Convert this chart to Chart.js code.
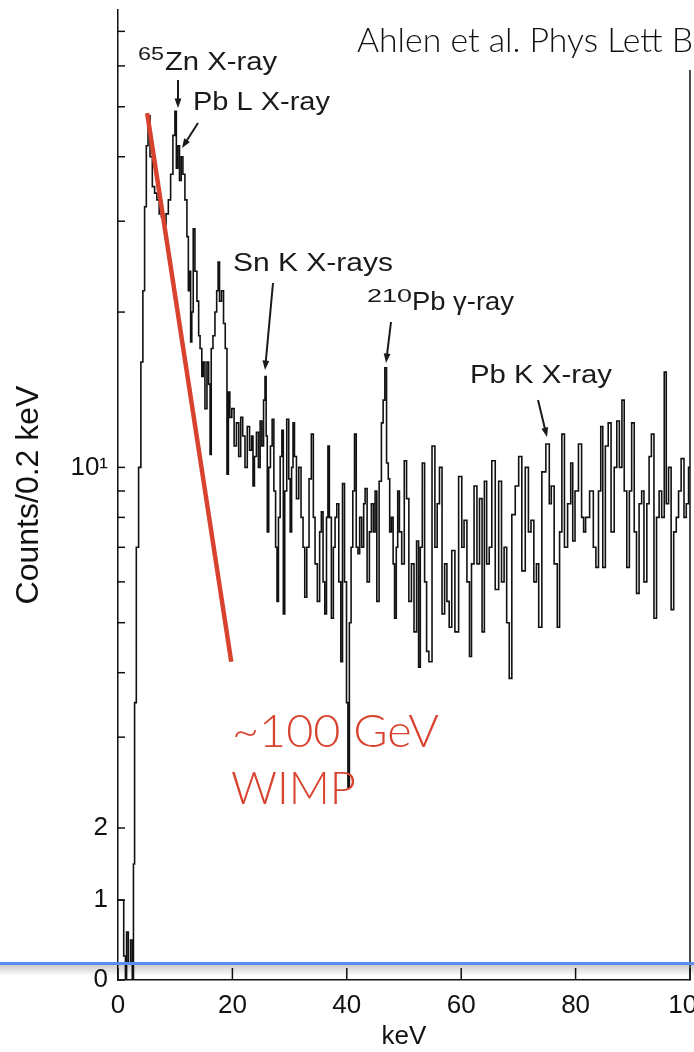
<!DOCTYPE html>
<html lang="en">
<head>
  <meta charset="UTF-8" />
  <title>Ahlen et al. spectrum</title>
  <script src="https://cdn.jsdelivr.net/npm/chart.js"></script>
  <style>
    body { margin: 0; background: #fff; }
    .box { position: relative; width: 694px; height: 1052px; }
  </style>
</head>
<body>
  <div class="box">
    <canvas id="espectro"></canvas>
  </div>

  <script>
    // energia (keV) e contagens, bins aproximados
    const energy = [
      0.0, 0.4, 0.8, 1.2, 1.4, 1.6, 2.0, 2.4, 2.6, 2.8,
      3.0, 3.4, 3.8, 4.2, 4.5, 4.8, 5.1, 5.4, 5.8, 6.2,
      6.6, 7.0, 7.4, 7.8, 8.2, 8.6, 9.0, 9.4, 9.8, 10.1,
      10.3, 10.6, 10.9, 11.2, 11.5, 11.9, 12.2, 12.4, 12.6, 12.8,
      13.0, 13.3, 13.6, 14.0, 14.2, 14.5, 14.8, 15.0, 15.4, 15.7,
      16.0, 16.2, 16.4, 16.8, 17.1, 17.4, 17.6, 17.9, 18.3, 18.6,
      18.9, 19.2, 19.4, 19.7, 20.1, 20.5, 20.9, 21.3, 21.6, 22.0,
      22.4, 22.8, 23.2, 23.5, 23.7, 24.0, 24.4, 24.7, 25.0, 25.3,
      25.6, 25.8, 26.0, 26.2, 26.5, 26.8, 27.1, 27.4, 27.7, 27.9,
      28.2, 28.5, 28.8, 29.0, 29.3, 29.7, 30.0, 30.2, 30.5, 30.7,
      31.0, 31.4, 31.8, 32.2, 32.5, 32.8, 33.2, 33.6, 34.0, 34.3,
      34.6, 35.1, 35.4, 35.7, 36.0, 36.3, 36.6, 36.8, 37.1, 37.5,
      37.8, 38.1, 38.4, 38.8, 39.1, 39.4, 39.8, 40.1, 40.3, 40.6,
      40.9, 41.2, 41.5, 41.8, 42.1, 42.4, 42.8, 43.1, 43.3, 43.8,
      44.1, 44.5, 44.8, 45.1, 45.4, 45.9, 46.2, 46.5, 46.8, 47.1,
      47.4, 47.6, 48.0, 48.2, 48.5, 48.8, 49.0, 49.4, 49.8, 50.3,
      50.6, 51.1, 51.5, 52.0, 52.4, 52.7, 53.0, 53.4, 53.8, 54.1,
      54.6, 55.2, 55.6, 56.0, 56.4, 56.9, 57.3, 57.7, 58.1, 58.6,
      59.2, 59.9, 60.3, 60.7, 61.3, 61.6, 62.0, 62.5, 63.0, 63.4,
      63.9, 64.2, 64.7, 65.1, 65.6, 66.3, 66.8, 67.3, 67.7, 68.2,
      68.6, 69.1, 69.8, 70.3, 70.9, 71.5, 72.0, 72.4, 73.0, 73.3,
      73.8, 74.4, 75.2, 75.6, 75.9, 76.6, 77.0, 77.4, 77.8, 78.3,
      78.9, 79.4, 79.6, 80.2, 80.8, 81.3, 81.5, 82.0, 82.9, 83.3,
      83.8, 84.2, 84.6, 84.9, 85.5, 85.9, 86.5, 87.0, 87.4, 87.9,
      88.3, 88.7, 89.2, 89.6, 90.0, 90.5, 90.8, 91.4, 91.7, 92.2,
      92.7, 93.0, 93.5, 93.9, 94.4, 94.8, 95.3, 95.7, 96.0, 96.5,
      96.9, 97.4, 97.8, 98.2, 98.7, 99.2, 99.5, 100.0
    ];
    const counts = [
      1, 1, 1, 0.3, 0, 0.6, 0.2, 0.5, 0, 1.5,
      3.5, 7, 10, 16, 22, 32, 42, 48, 40, 35,
      34, 33, 31, 30.5, 29.5, 31, 33, 37, 44, 49,
      38, 42, 36, 40, 37, 33, 28, 22, 24, 17.5,
      20, 29, 24, 21, 18, 17, 15, 16, 13, 16,
      14.5, 10.6, 17, 18, 20, 22, 25, 21, 22, 19,
      17, 9.7, 14, 12.5, 13, 11, 12.2, 10.5, 12.5, 11.5,
      10, 12, 10.8, 11.5, 9.2, 10.5, 11.7, 10, 12.3, 11,
      13.5, 15, 11.5, 7.5, 10, 11, 12.4, 9, 7, 5.5,
      8, 10.5, 11.8, 5.2, 9, 12.4, 9.5, 7.5, 10, 12.2,
      10.5, 8.7, 10, 8, 7, 5.6, 7, 9.5, 11.6, 8,
      6.5, 5.5, 7.5, 8.2, 6, 5.2, 8, 11, 8, 5.1,
      7, 8, 8.5, 6, 4.2, 9.3, 6, 3.5, 2.4, 5,
      7, 9, 11.6, 7, 6.8, 8, 7, 8.5, 9.1, 6,
      7.5, 8.5, 7.5, 9, 5.5, 9.4, 12.2, 13.5, 15.6, 10.2,
      9.5, 7.5, 8, 6.5, 5.1, 7, 9, 7.5, 6.5, 10.3,
      8.7, 5.5, 6.5, 4.8, 7.2, 4.1, 7, 10.2, 6, 4.4,
      4.2, 11, 7, 8.5, 10, 5.2, 6.5, 5.5, 4.9, 6.9,
      4.8, 9.6, 7, 7.9, 6, 4.3, 6.5, 9.2, 6.5, 8.7,
      4.8, 9.4, 6.5, 7, 10.3, 5.8, 9.4, 6, 7, 5,
      3.9, 8.1, 9.2, 10.5, 6.3, 10, 7.5, 7.9, 6, 6.5,
      4.9, 9.8, 11.1, 8.5, 9.2, 6.5, 4.9, 7.5, 11.6, 7,
      8.5, 10.2, 7.2, 9, 11.1, 8, 7.5, 8, 9, 7,
      6.4, 9, 12, 6.4, 11, 12.2, 7.5, 10, 12.3, 10,
      13.5, 9, 6.4, 9, 12.2, 7.5, 5.7, 8.5, 9, 6,
      8.5, 10.5, 11.6, 5.1, 8, 9, 8, 15.3, 8.5, 10,
      5.3, 7.5, 8, 9, 10.4, 8, 8.5, 10
    ];

    // reta vermelha do WIMP ~100 GeV
    const wimpEnergy = [5.1, 19.8];
    const wimpCounts = [48.6, 4.2];

    // marcas do eixo y (so 0, 1, 2 e 10 tem rotulo)
    const yTicks = [0, 1, 2, 3, 4, 5, 6, 7, 8, 9, 10, 20, 30, 40, 50, 60, 70];
    const yLabels = { 0: '0', 1: '1', 2: '2', 10: '10\u00b9' };
    const xTicks = [0, 20, 40, 60, 80, 100];

    // escala do artigo: linear de 0 a 2, log acima de 2
    function profundidade(v) {
      if (v <= 1) return v * 80 / 516;
      if (v <= 2) return (80 + (v - 1) * 72) / 516;
      return 152 / 516 + Math.log10(v / 2);
    }
    function inversa(d) {
      if (d <= 80 / 516) return d * 516 / 80;
      if (d <= 152 / 516) return 1 + (d * 516 - 80) / 72;
      return 2 * Math.pow(10, d - 152 / 516);
    }

    class CountScale extends Chart.Scale {
      determineDataLimits() {
        this.min = this.options.min;
        this.max = this.options.max;
      }
      buildTicks() {
        return yTicks.map(v => ({ value: v }));
      }
      getLabelForValue(v) {
        return String(v);
      }
      getPixelForValue(v) {
        const d0 = profundidade(this.min), d1 = profundidade(this.max);
        return this.getPixelForDecimal((profundidade(v) - d0) / (d1 - d0));
      }
      getValueForPixel(p) {
        const d0 = profundidade(this.min), d1 = profundidade(this.max);
        return inversa(d0 + this.getDecimalForPixel(p) * (d1 - d0));
      }
    }
    CountScale.id = 'counts';
    CountScale.defaults = {};
    Chart.register(CountScale);

    function textoLargo(ctx, txt, x, y, largura) {
      const w = ctx.measureText(txt).width;
      ctx.save();
      ctx.translate(x, y);
      ctx.scale(largura / w, 1);
      ctx.fillText(txt, 0, 0);
      ctx.restore();
    }

    function seta(ctx, x1, y1, x2, y2) {
      const ang = Math.atan2(y2 - y1, x2 - x1);
      ctx.beginPath();
      ctx.moveTo(x1, y1);
      ctx.lineTo(x2 - 6 * Math.cos(ang), y2 - 6 * Math.sin(ang));
      ctx.stroke();
      ctx.beginPath();
      ctx.moveTo(x2, y2);
      ctx.lineTo(x2 - 10 * Math.cos(ang - 0.35), y2 - 10 * Math.sin(ang - 0.35));
      ctx.lineTo(x2 - 10 * Math.cos(ang + 0.35), y2 - 10 * Math.sin(ang + 0.35));
      ctx.closePath();
      ctx.fill();
    }

    // desenhos por cima: anotacoes, titulo, linha azul
    const extras = {
      id: 'extras',
      afterDraw(chart) {
        const ctx = chart.ctx;
        const area = chart.chartArea;
        const xs = chart.scales.x, ys = chart.scales.y;
        ctx.save();

        // marcas para dentro nos eixos
        ctx.strokeStyle = '#111';
        ctx.lineWidth = 1.5;
        yTicks.forEach(v => {
          const py = ys.getPixelForValue(v);
          ctx.beginPath();
          ctx.moveTo(area.left, py);
          ctx.lineTo(area.left + 7, py);
          ctx.stroke();
        });
        xTicks.forEach(v => {
          const px = xs.getPixelForValue(v);
          ctx.beginPath();
          ctx.moveTo(px, area.bottom);
          ctx.lineTo(px, area.bottom - 12);
          ctx.stroke();
        });
        // borda direita
        ctx.beginPath();
        ctx.moveTo(area.right, 70);
        ctx.lineTo(area.right, area.bottom);
        ctx.stroke();

        // anotacoes do artigo
        ctx.fillStyle = '#1a1a1a';
        ctx.strokeStyle = '#1a1a1a';
        ctx.lineWidth = 2;
        ctx.textBaseline = 'alphabetic';
        ctx.font = '18px "Liberation Sans"';
        textoLargo(ctx, '65', 138, 60, 26);
        ctx.font = '25px "Liberation Sans"';
        textoLargo(ctx, 'Zn X-ray', 165, 70, 112);
        textoLargo(ctx, 'Pb L X-ray', 193, 110, 137);
        textoLargo(ctx, 'Sn K X-rays', 233, 271, 160);
        ctx.font = '18px "Liberation Sans"';
        textoLargo(ctx, '210', 367, 302, 45);
        ctx.font = '25px "Liberation Sans"';
        textoLargo(ctx, 'Pb \u03b3-ray', 412, 310, 102);
        textoLargo(ctx, 'Pb K X-ray', 470, 383, 142);
        seta(ctx, 178, 80, 178, 108);
        seta(ctx, 198, 123, 182, 148);
        seta(ctx, 273, 283, 265, 370);
        seta(ctx, 391, 322, 386, 363);
        seta(ctx, 538, 400, 547, 437);

        // titulo do slide
        ctx.fillStyle = '#111';
        ctx.font = '300 34px Lato';
        textoLargo(ctx, 'Ahlen et al. Phys Lett B', 357, 52, 336);

        // texto vermelho
        ctx.fillStyle = '#d8432f';
        ctx.font = '300 46px Lato';
        textoLargo(ctx, '~100 GeV', 232, 747, 207);
        textoLargo(ctx, 'WIMP', 231, 804, 125);

        // linha azul com sombra
        const g = ctx.createLinearGradient(0, 964, 0, 976);
        g.addColorStop(0, 'rgba(0,0,0,0.22)');
        g.addColorStop(1, 'rgba(0,0,0,0)');
        ctx.fillStyle = g;
        ctx.fillRect(0, 964, chart.width, 12);
        ctx.fillStyle = '#5b8def';
        ctx.fillRect(0, 962, chart.width, 3);
        ctx.restore();
      }
    };

    const ctx = document.getElementById('espectro').getContext('2d');
    const espectro = new Chart(ctx, {
      type: 'line',
      data: {
        datasets: [
          {
            label: 'espectro',
            data: energy.map((e, i) => ({ x: e, y: counts[i] })),
            borderColor: '#111',
            borderWidth: 1.6,
            pointRadius: 0,
            stepped: 'middle',
            order: 1
          },
          {
            label: 'WIMP',
            data: wimpEnergy.map((e, i) => ({ x: e, y: wimpCounts[i] })),
            borderColor: '#d8432f',
            borderWidth: 4.5,
            pointRadius: 0,
            order: 0
          }
        ]
      },
      options: {
        responsive: true,
        maintainAspectRatio: false,
        animation: false,
        layout: { padding: { top: 10, right: 4, left: 0, bottom: 0 } },
        plugins: {
          legend: { display: false },
          tooltip: { enabled: false }
        },
        scales: {
          x: {
            type: 'linear',
            min: 0,
            max: 100,
            afterFit: s => {
              s.height = 72;
              s.paddingLeft = 0;
              s.paddingRight = 0;
            },
            afterBuildTicks: s => { s.ticks = xTicks.map(v => ({ value: v })); },
            border: { color: '#111', width: 1.5 },
            grid: { drawOnChartArea: false, drawTicks: false },
            ticks: {
              padding: 10,
              color: '#111',
              font: { family: 'Liberation Sans', size: 26 }
            },
            title: {
              display: true,
              text: 'keV',
              color: '#111',
              font: { family: 'Liberation Sans', size: 26 },
              padding: { top: 0, bottom: 0 }
            }
          },
          y: {
            type: 'counts',
            min: 0,
            max: 77,
            afterFit: s => {
              s.width = 118;
              s.paddingTop = 0;
              s.paddingBottom = 0;
            },
            border: { color: '#111', width: 1.5 },
            grid: { drawOnChartArea: false, drawTicks: false },
            ticks: {
              autoSkip: false,
              padding: 10,
              color: '#111',
              font: { family: 'Liberation Sans', size: 26 },
              callback: v => yLabels[v] || ''
            },
            title: {
              display: true,
              text: 'Counts/0.2 keV',
              color: '#111',
              font: { family: 'Liberation Sans', size: 32 },
              padding: { top: 10, bottom: 0 }
            }
          }
        }
      },
      plugins: [extras]
    });
  </script>
</body>
</html>
